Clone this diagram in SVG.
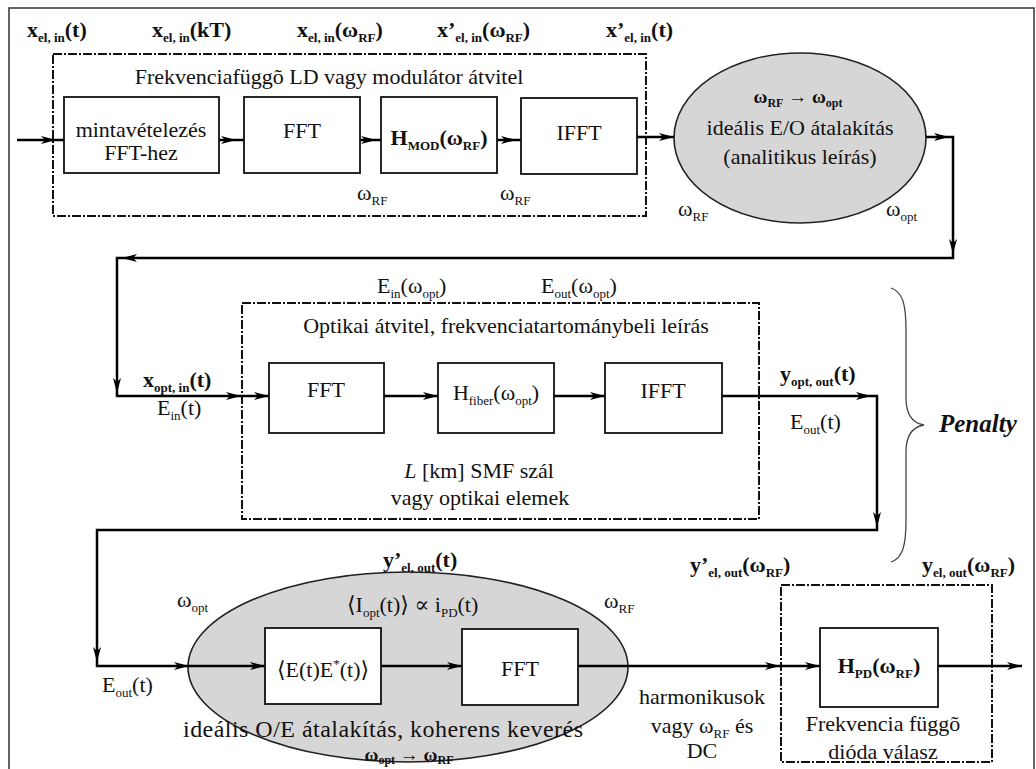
<svg xmlns="http://www.w3.org/2000/svg" xmlns:xlink="http://www.w3.org/1999/xlink" width="1036" height="769" viewBox="0 0 1036 769">
<style>
.t{font-family:"Liberation Serif","Times New Roman","DejaVu Serif",serif;font-size:22px;fill:#111}
.b{font-weight:bold}
.s{font-size:13px}
.box{fill:#fff;stroke:#111;stroke-width:1.8}
.dd{fill:none;stroke:#111;stroke-width:2;stroke-dasharray:9 2 2 2}
.ell{fill:#d6d6d6;stroke:#222;stroke-width:1.6}
.c{fill:none;stroke:#000;stroke-width:2.5}
.ah{fill:#000}
</style>
<defs>
<path id="ah" class="ah" d="M0,0 L-15,-4 L-11,0 L-15,4 Z"/>
</defs>
<rect width="1036" height="769" fill="#fff"/>
<path d="M9,769 V8 H1034 V769" fill="none" stroke="#333" stroke-width="1.5"/>

<g id="ld-block">
<rect class="dd" x="53" y="54" width="593" height="162"/>
<text class="t" x="329" y="84" text-anchor="middle">Frekvenciafüggõ LD vagy modulátor átvitel</text>
</g>

<g id="eo-conv">
<ellipse class="ell" cx="800" cy="138" rx="126" ry="85"/>
<text class="t b" x="798" y="103" text-anchor="middle" style="font-size:19px">ω<tspan style="font-size:12px" dy="4">RF</tspan><tspan dy="-4"> → ω</tspan><tspan style="font-size:12px" dy="4">opt</tspan></text>
<text class="t" x="800" y="135" text-anchor="middle">ideális E/O átalakítás</text>
<text class="t" x="800" y="164" text-anchor="middle">(analitikus leírás)</text>
</g>

<g id="fiber-block">
<rect class="dd" x="242" y="303" width="517" height="216"/>
<text class="t" x="506" y="333" text-anchor="middle">Optikai átvitel, frekvenciatartománybeli leírás</text>
<text class="t" x="479" y="478" text-anchor="middle"><tspan font-style="italic">L</tspan> [km] SMF szál</text>
<text class="t" x="480" y="505" text-anchor="middle">vagy optikai elemek</text>
</g>

<g id="oe-conv">
<ellipse class="ell" cx="408" cy="667" rx="220" ry="95"/>
<text class="t" x="347" y="612">⟨I<tspan class="s" dy="5">opt</tspan><tspan dy="-5">(t)⟩ ∝ i</tspan><tspan class="s" dy="5">PD</tspan><tspan dy="-5">(t)</tspan></text>
<text class="t" x="183" y="737" style="font-size:24px" textLength="400" lengthAdjust="spacing">ideális O/E átalakítás, koherens keverés</text>
<text class="t b" x="409" y="761" text-anchor="middle" style="font-size:19px">ω<tspan style="font-size:12px" dy="3">opt</tspan><tspan dy="-3"> → ω</tspan><tspan style="font-size:12px" dy="3">RF</tspan></text>
</g>

<g id="pd-block">
<rect class="dd" x="781" y="585" width="211" height="177"/>
<text class="t" x="883" y="731" text-anchor="middle">Frekvencia függõ</text>
<text class="t" x="883" y="759" text-anchor="middle">dióda válasz</text>
</g>

<g id="connectors">
<path class="c" d="M17,140 H64"/>
<use xlink:href="#ah" transform="translate(56,140)"/>
<path class="c" d="M219,140 H244"/>
<use xlink:href="#ah" transform="translate(236,140)"/>
<path class="c" d="M360,140 H381"/>
<use xlink:href="#ah" transform="translate(376,140)"/>
<path class="c" d="M497,140 H521"/>
<use xlink:href="#ah" transform="translate(516,140)"/>
<path class="c" d="M637,137 H674"/>
<use xlink:href="#ah" transform="translate(674,137)"/>
<path class="c" d="M926,137 H953 V258 H117 V396 H269"/>
<use xlink:href="#ah" transform="translate(949,137)"/>
<use xlink:href="#ah" transform="translate(953,254) rotate(90)"/>
<use xlink:href="#ah" transform="translate(122,258) rotate(180)"/>
<use xlink:href="#ah" transform="translate(117,393) rotate(90)"/>
<use xlink:href="#ah" transform="translate(241,396)"/>
<use xlink:href="#ah" transform="translate(269,396)"/>
<path class="c" d="M384,396 H438"/>
<use xlink:href="#ah" transform="translate(438,396)"/>
<path class="c" d="M554,396 H605"/>
<use xlink:href="#ah" transform="translate(605,396)"/>
<path class="c" d="M722,396 H877 V530 H97 V666 H265"/>
<use xlink:href="#ah" transform="translate(871,396)"/>
<use xlink:href="#ah" transform="translate(877,527) rotate(90)"/>
<use xlink:href="#ah" transform="translate(97,662) rotate(90)"/>
<use xlink:href="#ah" transform="translate(189,666)"/>
<use xlink:href="#ah" transform="translate(265,666)"/>
<path class="c" d="M381,666 H462"/>
<use xlink:href="#ah" transform="translate(462,666)"/>
<path class="c" d="M578,666 H820"/>
<use xlink:href="#ah" transform="translate(780,666)"/>
<use xlink:href="#ah" transform="translate(820,666)"/>
<path class="c" d="M938,666 H1022"/>
<use xlink:href="#ah" transform="translate(1022,666)"/>
</g>

<g id="sampling">
<rect class="box" x="64" y="97" width="155" height="76"/>
<text class="t" x="141" y="137" text-anchor="middle">mintavételezés</text>
<text class="t" x="141" y="160" text-anchor="middle">FFT-hez</text>
</g>
<g id="fft1">
<rect class="box" x="244" y="97" width="116" height="76"/>
<text class="t" x="302" y="138" text-anchor="middle">FFT</text>
</g>
<g id="hmod">
<rect class="box" x="381" y="97" width="116" height="76" stroke-width="2.4"/>
<text class="t b" x="439" y="145" text-anchor="middle">H<tspan class="s" dy="5">MOD</tspan><tspan dy="-5">(ω</tspan><tspan class="s" dy="5">RF</tspan><tspan dy="-5">)</tspan></text>
</g>
<g id="ifft1">
<rect class="box" x="521" y="98" width="116" height="76"/>
<text class="t" x="579" y="140" text-anchor="middle">IFFT</text>
</g>

<g id="fft2">
<rect class="box" x="269" y="363" width="115" height="70"/>
<text class="t" x="326" y="397" text-anchor="middle">FFT</text>
</g>
<g id="hfiber">
<rect class="box" x="438" y="363" width="116" height="70"/>
<text class="t" x="496" y="400" text-anchor="middle">H<tspan class="s" dy="5">fiber</tspan><tspan dy="-5">(ω</tspan><tspan class="s" dy="5">opt</tspan><tspan dy="-5">)</tspan></text>
</g>
<g id="ifft2">
<rect class="box" x="605" y="363" width="117" height="70"/>
<text class="t" x="663" y="398" text-anchor="middle">IFFT</text>
</g>

<g id="mixing">
<rect class="box" x="265" y="628" width="116" height="76"/>
<text class="t" x="323" y="677" text-anchor="middle">⟨E(t)E<tspan style="font-size:13px" dy="-9">*</tspan><tspan dy="9">(t)⟩</tspan></text>
</g>
<g id="fft3">
<rect class="box" x="462" y="629" width="116" height="76"/>
<text class="t" x="520" y="676" text-anchor="middle">FFT</text>
</g>
<g id="hpd">
<rect class="box" x="820" y="628" width="118" height="79"/>
<text class="t b" x="879" y="673" text-anchor="middle">H<tspan class="s" dy="5">PD</tspan><tspan dy="-5">(ω</tspan><tspan class="s" dy="5">RF</tspan><tspan dy="-5">)</tspan></text>
</g>

<g id="labels">
<text class="t b" x="27" y="37">x<tspan class="s" dy="5">el, in</tspan><tspan dy="-5">(t)</tspan></text>
<text class="t b" x="152" y="37">x<tspan class="s" dy="5">el, in</tspan><tspan dy="-5">(kT)</tspan></text>
<text class="t b" x="297" y="37">x<tspan class="s" dy="5">el, in</tspan><tspan dy="-5">(ω</tspan><tspan class="s" dy="5">RF</tspan><tspan dy="-5">)</tspan></text>
<text class="t b" x="437" y="37">x’<tspan class="s" dy="5">el, in</tspan><tspan dy="-5">(ω</tspan><tspan class="s" dy="5">RF</tspan><tspan dy="-5">)</tspan></text>
<text class="t b" x="606" y="37">x’<tspan class="s" dy="5">el, in</tspan><tspan dy="-5">(t)</tspan></text>
<text class="t" x="357" y="200">ω<tspan class="s" dy="5">RF</tspan></text>
<text class="t" x="500" y="200">ω<tspan class="s" dy="5">RF</tspan></text>
<text class="t" x="678" y="216">ω<tspan class="s" dy="5">RF</tspan></text>
<text class="t" x="886" y="216">ω<tspan class="s" dy="5">opt</tspan></text>
<text class="t" x="377" y="293">E<tspan class="s" dy="5">in</tspan><tspan dy="-5">(ω</tspan><tspan class="s" dy="5">opt</tspan><tspan dy="-5">)</tspan></text>
<text class="t" x="541" y="293">E<tspan class="s" dy="5">out</tspan><tspan dy="-5">(ω</tspan><tspan class="s" dy="5">opt</tspan><tspan dy="-5">)</tspan></text>
<text class="t b" x="143" y="387">x<tspan class="s" dy="5">opt, in</tspan><tspan dy="-5">(t)</tspan></text>
<text class="t" x="157" y="415">E<tspan class="s" dy="5">in</tspan><tspan dy="-5">(t)</tspan></text>
<text class="t b" x="780" y="381">y<tspan class="s" dy="5">opt, out</tspan><tspan dy="-5">(t)</tspan></text>
<text class="t" x="790" y="429">E<tspan class="s" dy="5">out</tspan><tspan dy="-5">(t)</tspan></text>
<text class="t b" x="383" y="567">y’<tspan class="s" dy="5">el, out</tspan><tspan dy="-5">(t)</tspan></text>
<text class="t" x="177" y="607">ω<tspan class="s" dy="5">opt</tspan></text>
<text class="t" x="604" y="608">ω<tspan class="s" dy="5">RF</tspan></text>
<text class="t b" x="690" y="572">y’<tspan class="s" dy="5">el, out</tspan><tspan dy="-5">(ω</tspan><tspan class="s" dy="5">RF</tspan><tspan dy="-5">)</tspan></text>
<text class="t b" x="922" y="572">y<tspan class="s" dy="5">el, out</tspan><tspan dy="-5">(ω</tspan><tspan class="s" dy="5">RF</tspan><tspan dy="-5">)</tspan></text>
<text class="t" x="102" y="692">E<tspan class="s" dy="5">out</tspan><tspan dy="-5">(t)</tspan></text>
<text class="t" x="702" y="704" text-anchor="middle">harmonikusok</text>
<text class="t" x="702" y="733" text-anchor="middle">vagy ω<tspan class="s" dy="5">RF</tspan><tspan dy="-5"> és</tspan></text>
<text class="t" x="702" y="758" text-anchor="middle">DC</text>
</g>

<g id="penalty">
<path d="M891,288 C903,292 906,305 906,330 L906,398 C906,415 912,423 924,425 C912,427 906,435 906,452 L906,520 C906,545 903,558 891,562" fill="none" stroke="#444" stroke-width="1.3"/>
<text class="t b" x="939" y="432" style="font-size:25px;font-style:italic">Penalty</text>
</g>
</svg>
